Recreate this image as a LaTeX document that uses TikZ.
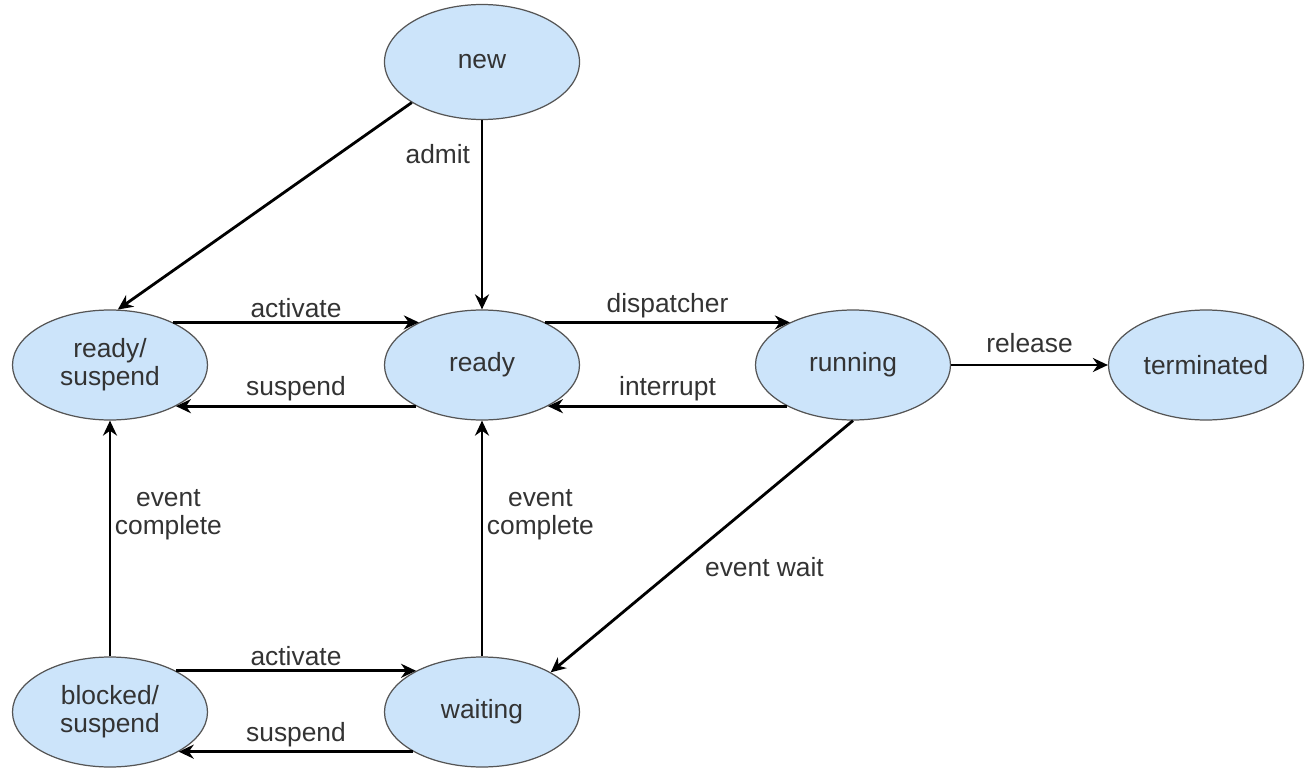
\documentclass[tikz,border=0pt]{standalone}
\usepackage{fontspec}
\setmainfont{Liberation Sans}
\usetikzlibrary{arrows.meta,positioning,shapes.geometric}
\definecolor{stfill}{HTML}{CCE4FA}
\definecolor{stline}{HTML}{555555}
\definecolor{txt}{HTML}{333333}

\begin{document}
\begin{tikzpicture}[>={Stealth[length=0.3cm,width=0.28cm]},
  state/.style={ellipse,draw=stline,line width=0.7pt,fill=stfill,
    minimum width=3.9cm,minimum height=2.2cm,inner sep=0pt,align=center,
    text=txt,font=\fontsize{15}{16}\selectfont},
  edge/.style={->,line width=1.6pt},
  lab/.style={text=txt,inner sep=2pt,align=center,font=\fontsize{15}{16}\selectfont}]
\useasboundingbox (0,0) rectangle (26.2,-15.36);
% states
\node[state,minimum height=2.3cm] (new) at (9.64,-1.24) {new};
\node[state] (rsus) at (2.2,-7.3) {ready/\\suspend};
\node[state] (ready) at (9.64,-7.3) {ready};
\node[state] (run) at (17.06,-7.3) {running};
\node[state] (term) at (24.12,-7.3) {terminated};
\node[state] (bsus) at (2.2,-14.24) {blocked/\\suspend};
\node[state] (wait) at (9.64,-14.24) {waiting};
% transitions
\draw[edge] (new.210) -- (rsus.82);
\draw[edge] (new) -- node[lab,pos=0.18,left=4pt] (admit) {admit} (ready);
\draw[edge] (rsus.34) -- node[lab,above] (act1) {activate} (ready.146);
\draw[edge] (ready.-148) -- node[lab,above] (sus1) {suspend} (rsus.-32);
\draw[edge] (ready.34) -- node[lab,above] (disp) {dispatcher} (run.146);
\draw[edge] (run.-148) -- node[lab,above] (intr) {interrupt} (ready.-32);
\draw[edge] (run) -- node[lab,above=4pt] (rel) {release} (term);
\draw[edge] (bsus) -- node[lab,pos=0.6,right] (ec1) {event\\complete} (rsus);
\draw[edge] (wait) -- node[lab,pos=0.6,right] (ec2) {event\\complete} (ready);
\draw[edge] (run.south) -- node[lab,pos=0.58,right=0.45cm] (ew) {event wait} (wait.30);
\draw[edge] (bsus.32) -- node[lab,above] (act2) {activate} (wait.148);
\draw[edge] (wait.-150) -- node[lab,above] (sus2) {suspend} (bsus.-30);
\end{tikzpicture}
\end{document}
